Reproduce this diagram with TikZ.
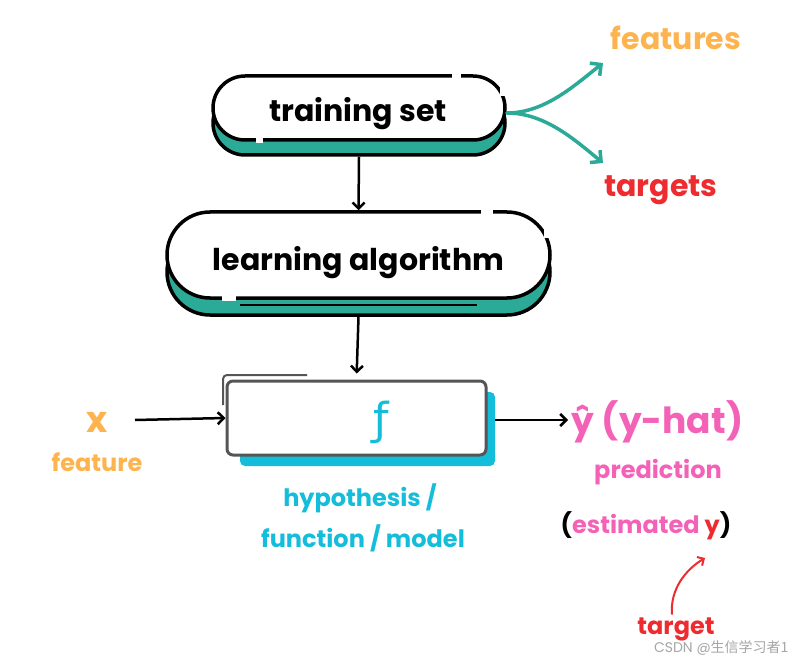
\documentclass[tikz,border=0pt]{standalone}
\usepackage{fontspec}
\setmainfont{Poppins}
\newfontfamily\cjkf{Noto Sans CJK SC}
\newfontfamily\djv{DejaVu Sans}
\usetikzlibrary{arrows.meta,shapes.misc}
\definecolor{tealc}{HTML}{2BAA98}
\definecolor{orangec}{HTML}{FDB44E}
\definecolor{redc}{HTML}{EE2B2F}
\definecolor{pinkc}{HTML}{F462B8}
\definecolor{cyanc}{HTML}{14BDDA}
\definecolor{grayc}{HTML}{555555}
\tikzset{
  pill/.style={rounded rectangle, draw=black, line width=3.5pt, fill=white, inner sep=0pt},
  pillshadow/.style={rounded rectangle, draw=black, line width=3.5pt, fill=tealc, inner sep=0pt},
  gap/.style={white, line width=6pt},
  big/.style={font=\fontsize{30}{32}\selectfont\bfseries},
  mid/.style={font=\fontsize{24}{28}\selectfont\bfseries},
  flow/.style={black, line width=2.5pt, -{Straight Barb[length=6pt,width=12pt,line width=2.5pt]}},
  tealarrow/.style={tealc, line width=3.5pt, line cap=round, -{Straight Barb[length=8pt,width=16pt,line width=3.5pt]}},
}
\begin{document}
\begin{tikzpicture}[x=1pt,y=-1pt]
\useasboundingbox[fill=white] (0,0) rectangle (800,660);

% training set
\node[pillshadow, minimum width=292pt, minimum height=64pt] (tsS) at (359,123) {};
\node[pill, minimum width=292pt, minimum height=64pt] (ts) at (359,108) {};
\node[big, anchor=base] (tst) at (358,122) {training set};
\draw[gap] (452,76) -- (461,76);
\draw[gap] (503,88) -- (503,96);
\draw[gap] (256,140) -- (263,140);

% learning algorithm
\node[pillshadow, minimum width=383pt, minimum height=86pt] (laS) at (358.5,272) {};
\node[pill, minimum width=383pt, minimum height=86pt] (la) at (358.5,255) {};
\node[big, anchor=base] (lat) at (358.5,270) {learning algorithm};
\draw[gap] (481,212) -- (493,212);
\draw[gap] (547,228) -- (547,238);
\draw[gap] (222,298) -- (236,298);
\draw[black, line width=2.5pt] (240,305) -- (477,305);

% f box
\node[rounded corners=5pt, fill=cyanc, minimum width=255pt, minimum height=74pt] (fS) at (367.5,429) {};
\draw[grayc, line width=2pt, rounded corners=4pt] (223,405) -- (223,375) -- (307,375);
\node[rounded corners=6pt, draw=grayc, line width=3pt, fill=white, minimum width=259pt, minimum height=74pt] (f) at (356.5,418) {};
\node[text=cyanc, font=\fontsize{44}{44}\djv, anchor=base] (fl) at (381,434) {ƒ};

% arrows
\draw[flow] (tsS.south) -- (la.north);
\draw[flow, shorten >=6pt] (laS.south) -- (f.north);

% input
\node[text=orangec, font=\fontsize{36}{36}\selectfont\bfseries, anchor=base] (x) at (97,432) {x};
\node[text=orangec, mid, anchor=base] (feat) at (97,471) {feature};
\coordinate (xin) at (135,420);
\draw[flow] (xin) -- (f.west);

% output
\node[text=pinkc, font=\fontsize{36}{38}\selectfont\bfseries, anchor=base west] (yhat) at (568,433) {ŷ (y-hat)};
\coordinate (yin) at (568,420);
\draw[flow] (fS.east |- yin) -- (yin);
\node[text=pinkc, mid, anchor=base] (pred) at (658,478) {prediction};
\node[mid, anchor=base] (est) at (646,533) {(\textcolor{pinkc}{estimated} \textcolor{redc}{y})};
\node[text=cyanc, mid, anchor=base] (hyp) at (360,506) {hypothesis /};
\node[text=cyanc, mid, anchor=base] (fun) at (363,547) {function / model};

% target
\node[text=redc, mid, anchor=base] (tgt) at (676,634) {target};
\draw[redc, line width=2pt, line cap=round, -{Straight Barb[length=5pt,width=10pt,line width=2pt]}] (672,614) .. controls (670,590) and (685,570) .. (705,558);

% features / targets
\node[text=orangec, big, anchor=base] (feats) at (676,50) {features};
\node[text=redc, big, anchor=base] (tgts) at (661,197) {targets};
\coordinate (tsr) at (507,113);
\coordinate (up) at (603,63);
\coordinate (dn) at (603,163);
\draw[tealarrow] (tsr) .. controls (545,113) and (575,85) .. (up);
\draw[tealarrow] (tsr) .. controls (545,113) and (575,140) .. (dn);

% watermark
\node[text=gray!70, font=\fontsize{14}{14}\selectfont, anchor=base east] (wm) at (792,652) {CSDN @\cjkf 生信学习者1};
\end{tikzpicture}
\end{document}
